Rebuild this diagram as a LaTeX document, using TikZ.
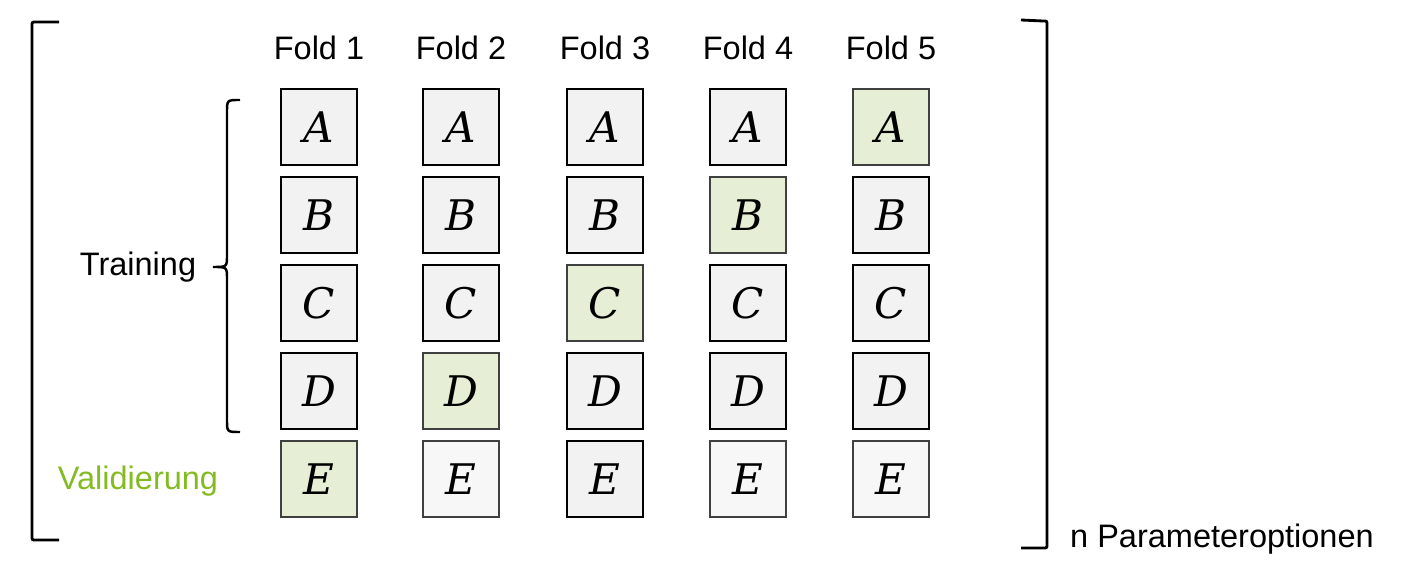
\documentclass[tikz,border=0pt]{standalone}
\usepackage{fontspec}
\setmainfont{Liberation Sans}
\newfontfamily\letterfont{DejaVu Serif}
\usepackage{xcolor}
\usepackage{tikz}
\definecolor{boxgray}{RGB}{242, 242, 242}
\definecolor{boxlight}{RGB}{247, 247, 247}
\definecolor{boxgreen}{RGB}{230, 239, 214}
\definecolor{edgegray}{RGB}{64, 64, 64}
\definecolor{valgreen}{RGB}{132, 186, 34}

\begin{document}
\begin{tikzpicture}[x=0.02cm, y=-0.02cm,
  trainbox/.style={draw=black, line width=1.1pt, fill=boxgray, minimum width=1.52cm, minimum height=1.52cm, inner sep=0pt, font=\letterfont\itshape\fontsize{24}{28}\selectfont},
  valbox/.style={trainbox, draw=edgegray, fill=boxgreen},
  restbox/.style={trainbox, draw=edgegray, fill=boxlight},
  lbl/.style={font=\fontsize{18.5}{22}\selectfont}]
\useasboundingbox (0,0) rectangle (1401,577);

% Fold labels
\node[lbl, anchor=base] (f1) at (319,60) {Fold 1};
\node[lbl, anchor=base] (f2) at (461,60) {Fold 2};
\node[lbl, anchor=base] (f3) at (605,60) {Fold 3};
\node[lbl, anchor=base] (f4) at (748,60) {Fold 4};
\node[lbl, anchor=base] (f5) at (891,60) {Fold 5};

% Fold 1
\node[trainbox] (a1) at (319,127) {A};
\node[trainbox] (b1) at (319,215) {B};
\node[trainbox] (c1) at (319,303) {C};
\node[trainbox] (d1) at (319,391) {D};
\node[valbox] (e1) at (319,479) {E};

% Fold 2
\node[trainbox] (a2) at (461,127) {A};
\node[trainbox] (b2) at (461,215) {B};
\node[trainbox] (c2) at (461,303) {C};
\node[valbox] (d2) at (461,391) {D};
\node[restbox] (e2) at (461,479) {E};

% Fold 3
\node[trainbox] (a3) at (605,127) {A};
\node[trainbox] (b3) at (605,215) {B};
\node[valbox] (c3) at (605,303) {C};
\node[trainbox] (d3) at (605,391) {D};
\node[trainbox] (e3) at (605,479) {E};

% Fold 4
\node[trainbox] (a4) at (748,127) {A};
\node[valbox] (b4) at (748,215) {B};
\node[trainbox] (c4) at (748,303) {C};
\node[trainbox] (d4) at (748,391) {D};
\node[restbox] (e4) at (748,479) {E};

% Fold 5
\node[valbox] (a5) at (891,127) {A};
\node[trainbox] (b5) at (891,215) {B};
\node[trainbox] (c5) at (891,303) {C};
\node[trainbox] (d5) at (891,391) {D};
\node[restbox] (e5) at (891,479) {E};

% Side labels
\node[lbl, anchor=base] (train) at (138,276) {Training};
\node[lbl, anchor=base, text=valgreen] (valid) at (138,490) {Validierung};
\node[lbl, anchor=base west] (nparam) at (1064,548) {n Parameteroptionen};

% Training brace
\draw[line width=1.4pt] (240,100) .. controls (227,100) .. (227,112) -- (227,255)
  .. controls (227,267) .. (213,267) .. controls (227,267) .. (227,279) -- (227,420)
  .. controls (227,432) .. (240,432);

% Outer brackets
\draw[line width=1.6pt] (59,22) -- (36,22) .. controls (32,22) .. (32,26) -- (32,536)
  .. controls (32,540) .. (36,540) -- (59,540);
\draw[line width=1.6pt] (1021,20) -- (1043,21) .. controls (1047,21) .. (1047,25) -- (1047,544)
  .. controls (1047,548) .. (1043,548) -- (1021,548);
\end{tikzpicture}
\end{document}
